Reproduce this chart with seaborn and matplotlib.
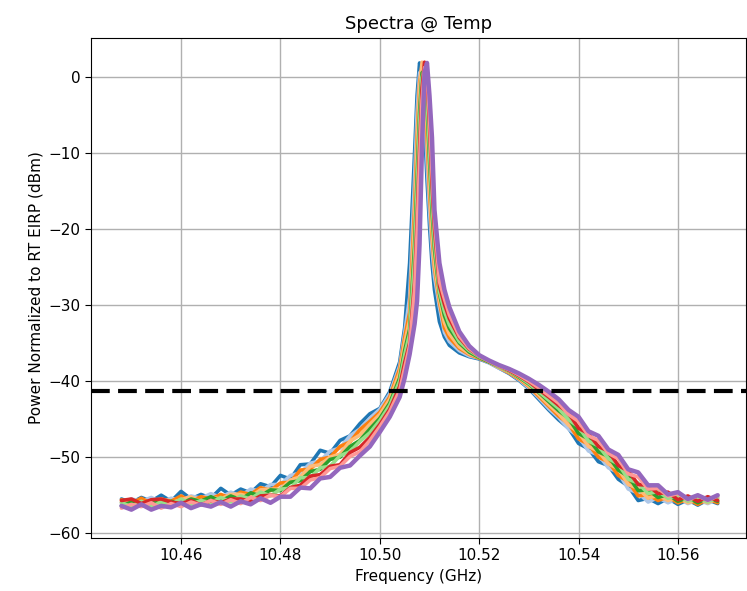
import pandas as pd
import matplotlib
matplotlib.use("Agg")
import matplotlib.pyplot as plt
import seaborn as sns

sns.set_style("ticks")
plt.rcParams.update({
    "text.color": "black",
    "axes.labelcolor": "black",
    "xtick.color": "black",
    "ytick.color": "black",
    "lines.solid_joinstyle": "round",
    "lines.solid_capstyle": "round",
})

# --- values ---
freq_ghz = [
    10.448, 10.450, 10.452, 10.454, 10.456, 10.458, 10.460, 10.462, 10.464, 10.466,
    10.468, 10.470, 10.472, 10.474, 10.476, 10.478, 10.480, 10.482, 10.484, 10.486,
    10.488, 10.490, 10.492, 10.494, 10.496,
    10.498, 10.500, 10.502, 10.504, 10.505, 10.506, 10.507, 10.5075, 10.508, 10.5085,
    10.509, 10.5095, 10.510, 10.5105, 10.511, 10.512, 10.513, 10.514, 10.516, 10.518,
    10.520,
    10.522, 10.524, 10.526, 10.528, 10.530, 10.532, 10.534, 10.536, 10.538, 10.540,
    10.542, 10.544, 10.546, 10.548, 10.550, 10.552, 10.554, 10.556, 10.558, 10.560,
    10.562, 10.564, 10.566, 10.568,
]

spec_0 = [
    -55.5, -56.0, -55.3, -55.8, -55.0, -55.8, -54.5, -55.5, -54.9, -55.4, -54.1, -55.0, -54.2,
    -54.7, -53.5, -53.9, -52.4, -52.9, -51.0, -50.9, -49.1, -49.5, -47.8, -47.2, -45.6,
    -44.3, -43.6, -41.4, -37.5, -33.0, -24.5, -10.0, -2.5, 1.8, 0.5, -6.5, -13.5, -19.5,
    -24.5, -28.0, -32.2, -34.2, -35.3, -36.3, -36.8, -37.1,
    -37.6, -38.3, -39.0, -39.9, -41.0, -42.4, -43.8, -45.1, -46.2, -48.2, -48.9, -50.6,
    -51.1, -52.9, -53.8, -55.7, -55.4, -56.1, -55.4, -56.2, -55.6, -56.3, -55.6, -56.1,
]
spec_1 = [
    -56.0, -55.5, -55.8, -55.3, -55.9, -55.4, -55.7, -55.1, -55.4, -54.8, -55.3, -54.6, -55.1,
    -54.2, -54.5, -53.6, -53.6, -52.4, -52.1, -50.8, -50.5, -49.2, -48.8, -47.2, -46.3,
    -44.9, -43.7, -41.7, -38.0, -33.7, -29.0, -13.3, -4.7, 0.5, 0.8, -3.9, -11.0, -17.6,
    -22.7, -26.3, -30.3, -33.6, -34.8, -36.0, -36.7, -37.0,
    -37.6, -38.3, -38.9, -39.8, -40.9, -42.2, -43.6, -44.8, -46.3, -47.3, -49.2, -49.7,
    -51.4, -52.0, -54.2, -54.7, -55.9, -55.3, -56.0, -55.4, -56.1, -55.6, -56.1, -55.5,
]
spec_2 = [
    -55.6, -56.1, -55.4, -56.1, -55.5, -55.8, -55.1, -55.8, -55.2, -55.5, -54.9, -55.4, -54.6,
    -54.9, -54.0, -54.4, -53.4, -53.3, -51.7, -51.6, -50.3, -50.0, -48.6, -48.0, -46.4,
    -45.3, -44.1, -42.1, -38.4, -34.3, -31.0, -17.1, -7.9, -0.8, 1.5, -1.3, -8.0, -15.2,
    -20.9, -25.1, -29.6, -33.0, -34.3, -35.7, -36.5, -37.0,
    -37.5, -38.2, -38.9, -39.7, -40.7, -42.0, -43.3, -44.6, -45.6, -47.6, -48.3, -50.0,
    -50.6, -52.4, -53.2, -55.1, -54.9, -55.7, -55.2, -56.0, -55.5, -56.2, -55.5, -56.0,
]
spec_3 = [
    -55.9, -55.6, -56.2, -55.7, -55.5, -56.0, -55.6, -55.2, -55.9, -55.3, -55.5, -54.9, -54.9,
    -55.2, -54.3, -54.2, -54.2, -53.0, -52.6, -51.2, -51.0, -50.0, -49.6, -47.9, -47.1,
    -45.7, -44.4, -42.4, -38.9, -35.0, -32.0, -19.0, -9.5, -1.5, 1.9, 0.0, -6.5, -14.0,
    -20.0, -24.5, -29.2, -32.3, -33.8, -35.5, -36.4, -36.9,
    -37.5, -38.2, -38.8, -39.6, -40.6, -41.8, -43.1, -44.3, -45.8, -46.7, -48.6, -49.2,
    -50.9, -51.5, -53.6, -54.1, -55.4, -55.0, -55.7, -55.2, -56.0, -55.5, -56.0, -55.4,
]
spec_4 = [
    -56.4, -55.9, -56.2, -55.7, -56.3, -55.8, -56.1, -55.5, -55.8, -55.2, -55.8, -55.1, -55.6,
    -54.7, -55.1, -54.3, -54.4, -53.3, -53.1, -51.9, -51.6, -50.3, -50.0, -48.6, -47.8,
    -46.3, -44.9, -42.9, -39.6, -36.0, -33.2, -22.2, -13.3, -4.7, 0.5, 0.8, -3.9, -11.0,
    -17.6, -22.7, -28.5, -31.4, -33.1, -35.0, -36.2, -36.9,
    -37.5, -38.1, -38.7, -39.5, -40.4, -41.5, -42.7, -43.9, -44.9, -46.9, -47.6, -49.3,
    -49.9, -51.7, -52.5, -54.4, -54.3, -55.3, -54.9, -55.8, -55.3, -56.0, -55.3, -55.8,
]
spec_5 = [
    -56.0, -56.5, -55.8, -56.5, -55.9, -56.2, -55.5, -56.2, -55.7, -56.0, -55.3, -55.9, -55.1,
    -55.5, -54.6, -55.1, -54.2, -54.1, -52.7, -52.7, -51.4, -51.2, -49.8, -49.3, -47.9,
    -46.8, -45.2, -43.2, -40.0, -36.6, -33.8, -23.8, -15.2, -6.3, -0.1, 1.1, -2.6, -9.5,
    -16.4, -21.8, -28.2, -30.8, -32.6, -34.8, -36.0, -36.8,
    -37.4, -38.1, -38.7, -39.4, -40.3, -41.4, -42.5, -43.6, -45.1, -46.0, -47.9, -48.5,
    -50.2, -50.9, -52.9, -53.4, -54.8, -54.5, -55.4, -55.0, -55.8, -55.3, -55.9, -55.3,
]
spec_6 = [
    -55.7, -55.5, -56.1, -55.6, -55.5, -55.9, -56.1, -55.7, -56.3, -55.7, -56.0, -55.5, -55.5,
    -55.8, -55.1, -55.0, -55.1, -54.0, -53.7, -52.5, -52.3, -51.2, -51.0, -49.4, -48.7,
    -47.4, -45.7, -43.7, -40.7, -37.6, -35.0, -27.0, -19.0, -9.5, -1.5, 1.9, 0.0, -6.5,
    -14.0, -20.0, -27.5, -29.9, -31.8, -34.3, -35.8, -36.7,
    -37.4, -38.0, -38.6, -39.3, -40.1, -41.1, -42.1, -43.2, -44.2, -46.2, -46.9, -48.6,
    -49.2, -51.1, -51.8, -53.6, -53.7, -54.8, -54.6, -55.6, -55.1, -55.8, -55.2, -55.7,
]
spec_7 = [
    -56.7, -56.2, -56.5, -56.0, -56.7, -56.1, -56.5, -55.9, -56.3, -55.7, -56.2, -55.6, -56.1,
    -55.3, -55.7, -55.0, -55.2, -54.1, -54.1, -53.0, -52.7, -51.5, -51.2, -49.9, -49.3,
    -47.8, -46.0, -44.0, -41.2, -38.3, -35.4, -28.0, -20.6, -11.4, -3.1, 1.2, 0.4, -5.2,
    -12.5, -18.8, -26.9, -29.2, -31.3, -34.1, -35.7, -36.7,
    -37.4, -38.0, -38.5, -39.2, -40.0, -40.9, -41.9, -42.9, -44.4, -45.3, -47.2, -47.8,
    -49.5, -50.2, -52.2, -52.6, -54.2, -54.1, -55.1, -54.8, -55.6, -55.1, -55.7, -55.1,
]
spec_8 = [
    -56.4, -56.9, -56.2, -56.9, -56.4, -56.6, -56.0, -56.7, -56.2, -56.5, -55.9, -56.5, -55.8,
    -56.2, -55.4, -56.0, -55.2, -55.2, -54.0, -54.1, -52.8, -52.6, -51.4, -51.1, -49.8,
    -48.6, -46.7, -44.7, -42.1, -39.6, -36.5, -32.5, -29.5, -22.0, -9.0, 0.5, 1.8, -2.5,
    -8.0, -17.5, -24.5, -28.0, -30.3, -33.5, -35.4, -36.6,
    -37.3, -37.9, -38.4, -39.0, -39.7, -40.5, -41.4, -42.4, -43.8, -44.7, -46.6, -47.2,
    -49.0, -49.7, -51.6, -52.0, -53.7, -53.7, -54.9, -54.6, -55.5, -55.0, -55.6, -55.0,
]

threshold_dbm = -41.3

spectra = [spec_0, spec_1, spec_2, spec_3, spec_4, spec_5, spec_6, spec_7, spec_8]
palette = sns.color_palette("tab20", 20)[:len(spectra)]

fig = plt.figure(figsize=(7.47, 5.91), dpi=100)
ax = fig.add_axes([0.122, 0.09, 0.876, 0.846])

# one call per temperature so the last (purple) trace can be drawn a bit heavier
for i, vals in enumerate(spectra):
    df = pd.DataFrame({"freq": freq_ghz, "power": vals})
    lw = 3.2 if i == len(spectra) - 1 else 2.6
    sns.lineplot(data=df, x="freq", y="power", color=palette[i], linewidth=lw,
                 estimator=None, ax=ax)

ax.axhline(threshold_dbm, color="black", linestyle=(0, (4.5, 2)), linewidth=3)

ax.set_xlim(10.4419, 10.5736)
ax.set_ylim(-60.6, 5.1)
ax.set_xticks([10.46, 10.48, 10.50, 10.52, 10.54, 10.56])
ax.set_yticks([-60, -50, -40, -30, -20, -10, 0])
ax.grid(True, color="#b0b0b0", linewidth=1.0)
ax.tick_params(labelsize=11, length=4, color="black")
for sp in ax.spines.values():
    sp.set_color("black")

ax.set_title("Spectra @ Temp", fontsize=13)
ax.set_xlabel("Frequency (GHz)", fontsize=11)
ax.set_ylabel("Power Normalized to RT EIRP (dBm)", fontsize=11)

fig.savefig("out.png", dpi=100)
